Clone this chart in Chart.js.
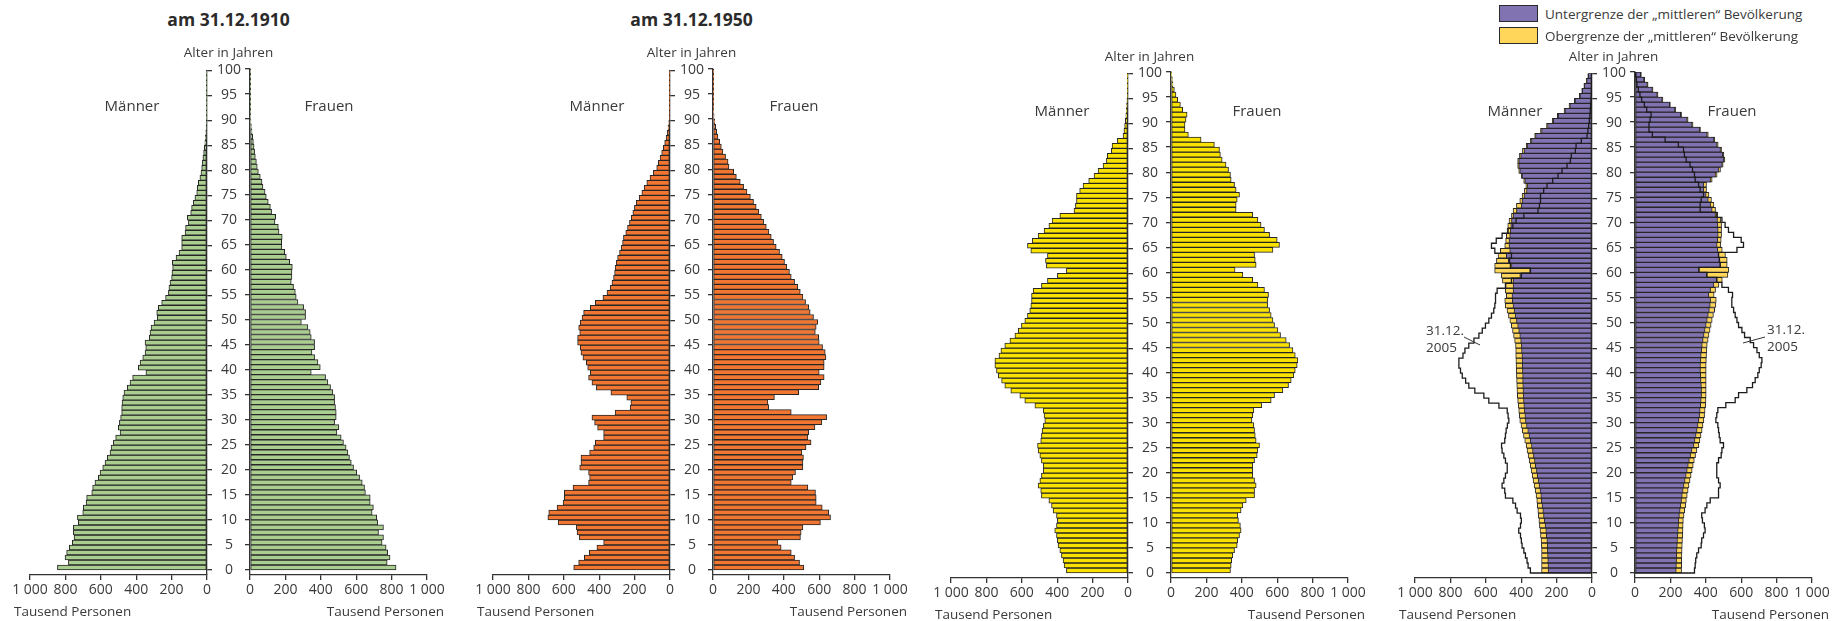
<!DOCTYPE html>
<html lang="de">
<head>
<meta charset="utf-8">
<title>Bevölkerungspyramiden</title>
<script src="https://cdn.jsdelivr.net/npm/chart.js@4.4.1/dist/chart.umd.min.js"></script>
<style>
  body { margin: 0; width: 1845px; height: 621px; background: #fff; position: relative; overflow: hidden;
         font-family: 'Open Sans', sans-serif; color: #3a3a3a; }
  canvas { position: absolute; }
  .txt { position: absolute; white-space: nowrap; font-size: 13.5px; line-height: 1.2; }
  .title { font-weight: bold; font-size: 17.5px; color: #2b2b2b; }
  .sex { font-size: 15px; }
  .box { position: absolute; width: 37px; height: 15px; border: 1.5px solid #2b2b2b; }
  svg { position: absolute; left: 0; top: 0; }
</style>
</head>
<body>
<script>
// Altersjahre (Kategorien)
const ages = Array.from({ length: 100 }, (_, i) => i);
const ageTicks = [0, 5, 10, 15, 20, 25, 30, 35, 40, 45, 50, 55, 60, 65, 70, 75, 80, 85, 90, 95, 100];
const valueTicks = [0, 200, 400, 600, 800, 1000];

// Tausend Personen je Altersjahr, 31.12.1910
const men1910 = [845,783,802,793,778,761,751,755,755,727,
  732,702,699,683,680,651,646,633,614,604,
  589,576,563,548,542,529,516,491,501,495,
  488,482,482,480,476,469,450,435,420,345,
  388,378,363,350,346,350,326,322,316,299,
  281,284,275,256,234,218,215,209,200,198,
  194,196,175,158,143,143,143,124,121,105,
  111,92,87,77,68,58,55,49,40,34,
  30,26,23,19,15,12,9,7,5,3,
  2,1.5,1,1,0.5,0.5,0.5,0.3,0.3,0.2];
const women1910 = [825,775,791,778,769,746,754,726,754,722,
  716,690,697,679,679,652,647,634,619,603,
  585,572,562,553,543,528,515,491,502,478,
  487,487,483,478,478,468,455,440,427,346,
  397,384,365,350,365,365,346,340,327,290,
  314,314,303,271,261,256,246,233,237,237,
  239,224,205,196,180,179,182,164,160,141,
  145,122,115,103,92,85,73,68,58,47,
  41,36,30,26,23,19,15,11,8,5,
  3,2,1.5,1,1,0.5,0.5,0.3,0.3,0.2];

// 31.12.1950
const men1950 = [544,516,484,456,413,375,512,525,529,632,
  690,685,638,604,597,597,548,460,454,460,
  510,503,503,454,431,422,375,375,409,426,
  441,310,225,221,244,334,416,441,460,450,
  465,473,492,503,507,522,522,510,516,507,
  497,488,450,422,379,356,338,328,319,313,
  310,304,296,285,276,268,263,250,240,229,
  219,210,201,191,174,159,146,131,113,94,
  75,66,56,47,38,30,22,16,11,7,
  4,3,2,1,0.5,0.5,0.3,0.3,0.2,0.2];
const women1950 = [513,489,461,442,385,367,494,498,508,607,
  664,654,617,583,583,579,536,442,451,466,
  508,508,511,502,526,554,536,541,576,615,
  642,442,315,310,347,484,597,610,628,600,
  628,628,638,634,619,600,597,578,583,592,
  568,549,541,523,508,493,479,461,442,432,
  417,404,391,376,357,342,329,316,301,286,
  273,259,244,229,211,192,173,154,132,117,
  90,85,71,56,47,38,28,21,15,10,
  6,4,2,1,0.5,0.5,0.3,0.3,0.2,0.2];

// 31.12.2005
const men2005 = [348,361,367,376,385,395,399,404,414,404,
  399,404,423,432,447,489,493,508,498,489,
  479,479,489,498,508,511,493,489,485,478,
  470,474,479,526,583,611,662,696,714,733,
  743,752,752,729,718,696,667,639,620,602,
  583,568,555,549,545,545,536,489,455,399,
  348,461,466,455,549,568,541,508,474,447,
  429,385,305,297,291,291,273,254,222,192,
  169,141,122,117,94,90,60,28,23,19,
  15,12,10,8,6,4,3,2,1,1];
const women2005 = [336,340,343,349,359,374,377,387,396,392,
  381,377,396,406,425,472,472,481,472,462,
  462,462,472,487,491,500,481,476,472,468,
  457,462,468,513,566,585,632,664,679,694,
  702,713,717,702,689,670,651,619,604,585,
  576,566,557,547,547,551,528,491,462,406,
  362,481,476,472,576,613,600,557,528,509,
  491,462,368,368,374,387,368,359,340,336,
  325,311,289,279,274,245,170,98,79,79,
  85,91,66,53,38,28,19,11,8,4];

// Vorausberechnung: Untergrenze / Obergrenze der "mittleren" Bevölkerung
const menLower = [248,249,250,251,252,253,255,258,261,265,
  270,274,278,282,286,289,294,299,304,309,
  314,320,325,331,336,342,349,356,363,370,
  376,379,382,385,387,389,390,391,392,392,
  393,394,395,396,398,399,403,408,414,420,
  427,434,440,446,450,452,446,446,446,408,
  352,455,474,484,465,469,469,465,461,459,
  455,446,427,399,395,384,370,365,380,395,
  408,414,414,403,384,365,342,319,285,251,
  219,191,153,125,96,68,55,43,30,21];
const menUpper = [285,285,285,285,285,286,288,291,294,297,
  300,303,306,309,312,316,321,327,333,338,
  344,349,355,361,367,372,380,387,394,401,
  408,411,414,417,420,422,424,425,426,427,
  428,429,430,431,431,432,437,443,449,456,
  464,472,480,490,493,484,490,488,506,512,
  550,550,540,531,518,493,488,484,480,476,
  469,455,446,427,408,395,382,374,386,400,
  414,420,420,410,393,372,348,324,291,257,
  225,196,158,130,100,72,58,46,33,24];
const womenLower = [233,234,235,236,237,239,240,242,244,246,
  248,251,255,259,263,267,272,277,283,289,
  295,301,307,314,322,333,339,345,351,356,
  361,365,368,371,374,376,376,375,373,371,
  370,370,372,374,377,380,385,390,396,402,
  408,414,420,425,427,417,427,446,464,408,
  361,483,480,474,468,464,468,470,470,468,
  466,455,436,427,414,402,389,389,427,455,
  474,493,502,496,483,464,446,408,365,323,
  295,258,226,196,154,126,98,70,51,32];
const womenUpper = [263,264,264,265,266,267,268,270,271,272,
  273,277,281,286,290,295,300,305,311,317,
  323,329,335,342,350,361,367,373,379,384,
  389,393,396,399,401,402,402,402,402,402,
  402,402,403,404,406,408,413,418,424,430,
  436,443,450,457,459,447,455,474,493,525,
  530,521,521,511,493,485,487,489,489,489,
  485,468,455,446,432,418,404,404,436,464,
  483,498,508,502,489,470,451,414,370,328,
  300,263,231,200,158,130,102,74,55,36];

// Layout
const HALF_W = 177, GAP = 43, PAD_SIDE = 26, PAD_TOP = 12, X_AXIS_H = 46, PLOT_H = 506;
const INK = '#262626', TEXT = '#3a3a3a';
Chart.defaults.font.family = "'Open Sans', sans-serif";
Chart.defaults.color = TEXT;

const panels = [
  { men: [men1910], women: [women1910], fills: ['#aacd90'], zeroX: 207, topY: 69,
    title: 'am 31.12.1910', alterY: 52, sexY: 105, menDX: 75, womenDX: 79 },
  { men: [men1950], women: [women1950], fills: ['#f07632'], zeroX: 670, topY: 69,
    title: 'am 31.12.1950', alterY: 52, sexY: 105, menDX: 73, womenDX: 81 },
  { men: [men2005], women: [women2005], fills: ['#f9e100'], zeroX: 1128, topY: 72,
    title: null, alterY: 56, sexY: 110, menDX: 66, womenDX: 86 },
  { men: [menLower, menUpper], women: [womenLower, womenUpper], fills: ['#8172b2', '#ffd65a'],
    outline: { men: men2005, women: women2005 }, zeroX: 1592, topY: 72,
    title: null, alterY: 56, sexY: 110, menDX: 77, womenDX: 97 }
];

function fmt(v) {
  return String(v).replace(/\B(?=(\d{3})+$)/g, ' ');
}

function barSet(values, color, order) {
  return {
    type: 'bar',
    data: values.map((v, i) => ({ x: v, y: ages[i] + 0.5 })),
    backgroundColor: color,
    borderColor: INK,
    borderWidth: 1,
    borderSkipped: false,
    barPercentage: 1,
    categoryPercentage: 1,
    grouped: false,
    order: order
  };
}

// Umriss 31.12.2005 als Treppenlinie
function outlineSet(values) {
  const pts = [{ x: 0, y: 0 }];
  values.forEach((v, i) => pts.push({ x: v, y: ages[i] }));
  pts.push({ x: values[values.length - 1], y: 100 });
  pts.push({ x: 0, y: 100 });
  return {
    type: 'line', data: pts, stepped: 'after', borderColor: '#1c1c1c', borderWidth: 1.3,
    pointRadius: 0, fill: false, order: 0
  };
}

function makeHalf(p, isMen) {
  const canvas = document.createElement('canvas');
  canvas.width = PAD_SIDE + HALF_W + GAP;
  canvas.height = PAD_TOP + PLOT_H + X_AXIS_H;
  canvas.style.left = (isMen ? p.zeroX - HALF_W - PAD_SIDE : p.zeroX) + 'px';
  canvas.style.top = (p.topY - PAD_TOP) + 'px';
  document.body.appendChild(canvas);

  const series = isMen ? p.men : p.women;
  const datasets = series.map((vals, k) => barSet(vals, p.fills[k], k + 1));
  if (p.outline) datasets.push(outlineSet(isMen ? p.outline.men : p.outline.women));

  new Chart(canvas, {
    type: 'bar',
    data: { datasets: datasets },
    options: {
      indexAxis: 'y',
      responsive: false,
      animation: false,
      events: [],
      layout: { padding: { left: isMen ? PAD_SIDE : 0, right: isMen ? 0 : PAD_SIDE, top: PAD_TOP, bottom: 0 } },
      plugins: { legend: { display: false }, tooltip: { enabled: false } },
      scales: {
        x: {
          type: 'linear', min: 0, max: 1000, reverse: isMen, offset: false,
          afterBuildTicks: s => { s.ticks = valueTicks.map(v => ({ value: v })); },
          afterFit: s => { s.height = X_AXIS_H; },
          ticks: { callback: v => fmt(v), font: { size: 14 }, color: TEXT, padding: 2, maxRotation: 0, autoSkip: false },
          grid: { drawOnChartArea: false, offset: false, tickLength: 5, color: '#333', lineWidth: 1.3 },
          border: { color: '#333', width: 1.3 }
        },
        y: {
          type: 'linear', min: -1, max: 100, position: isMen ? 'right' : 'left', offset: false,
          afterBuildTicks: s => { s.ticks = ageTicks.map(v => ({ value: v })); },
          afterFit: s => { s.width = GAP; },
          ticks: { display: isMen, crossAlign: 'center', padding: 5, font: { size: 14 }, color: TEXT, autoSkip: false },
          grid: { drawOnChartArea: false, offset: false, tickLength: 5, color: '#333', lineWidth: 1.3 },
          border: { color: '#333', width: 1.3 }
        }
      }
    }
  });
}

function addText(str, x, y, cls, anchor) {
  const d = document.createElement('div');
  d.className = 'txt' + (cls ? ' ' + cls : '');
  d.textContent = str;
  d.style.left = x + 'px';
  d.style.top = y + 'px';
  const tx = anchor === 'left' ? '0' : anchor === 'right' ? '-100%' : '-50%';
  d.style.transform = 'translate(' + tx + ', -50%)';
  document.body.appendChild(d);
}

panels.forEach(p => {
  makeHalf(p, true);
  makeHalf(p, false);
  const mid = p.zeroX + GAP / 2;
  const axisY = p.topY + PLOT_H;
  if (p.title) addText(p.title, mid, 19, 'title', 'center');
  addText('Alter in Jahren', mid, p.alterY, '', 'center');
  addText('Männer', p.zeroX - p.menDX, p.sexY, 'sex', 'center');
  addText('Frauen', p.zeroX + GAP + p.womenDX, p.sexY, 'sex', 'center');
  addText('Tausend Personen', p.zeroX - HALF_W - 16, axisY + 36, '', 'left');
  addText('Tausend Personen', p.zeroX + GAP + HALF_W + 17, axisY + 36, '', 'right');
});

// Legende
[['#8172b2', 'Untergrenze der „mittleren“ Bevölkerung', 5],
 ['#ffd65a', 'Obergrenze der „mittleren“ Bevölkerung', 27]].forEach(([c, label, top]) => {
  const b = document.createElement('div');
  b.className = 'box';
  b.style.left = '1499px';
  b.style.top = top + 'px';
  b.style.background = c;
  document.body.appendChild(b);
  addText(label, 1545, top + 9, '', 'left');
});

// Beschriftung 31.12.2005
addText('31.12.', 1426, 330, '', 'left');
addText('2005', 1426, 347, '', 'left');
addText('31.12.', 1767, 329, '', 'left');
addText('2005', 1767, 346, '', 'left');
const svg = document.createElementNS('http://www.w3.org/2000/svg', 'svg');
svg.setAttribute('width', 1845);
svg.setAttribute('height', 621);
svg.innerHTML = '<line x1="1464" y1="337" x2="1480" y2="345" stroke="#333" stroke-width="1"/>' +
                '<line x1="1765" y1="337" x2="1743" y2="343" stroke="#333" stroke-width="1"/>';
document.body.appendChild(svg);
</script>
</body>
</html>
